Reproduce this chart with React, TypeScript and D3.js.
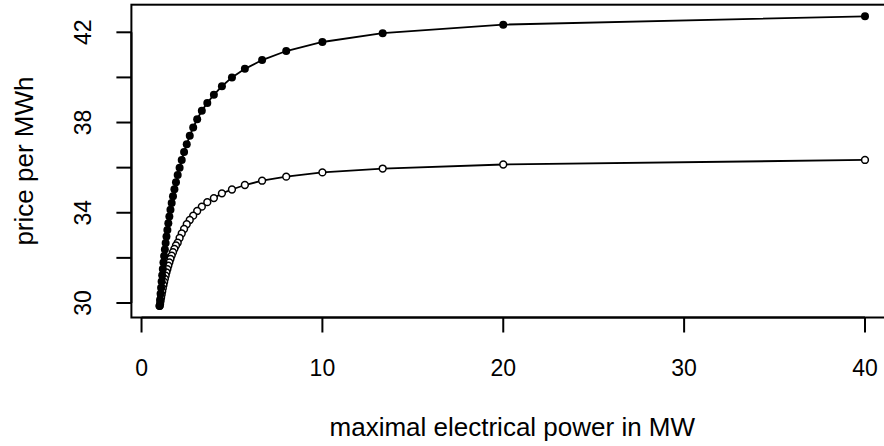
import React from "react";
import * as d3 from "d3";

const kIndex = d3.range(1, 41);
const powerMW = kIndex.map((k) => 40 / k);

const priceFilled = [
  42.71, 42.34, 41.96, 41.57, 41.17, 40.77, 40.38, 40.0, 39.61, 39.23,
  38.87, 38.52, 38.15, 37.78, 37.41, 37.04, 36.69, 36.34, 36.0, 35.67,
  35.35, 35.04, 34.73, 34.43, 34.13, 33.83, 33.53, 33.24, 32.95, 32.66,
  32.37, 32.08, 31.8, 31.51, 31.23, 30.95, 30.68, 30.41, 30.14, 29.87,
];

const priceOpen = [
  36.34, 36.14, 35.96, 35.79, 35.6, 35.42, 35.23, 35.03, 34.86, 34.65,
  34.47, 34.27, 34.08, 33.87, 33.68, 33.49, 33.28, 33.08, 32.88, 32.67,
  32.55, 32.4, 32.25, 32.1, 31.95, 31.8, 31.65, 31.5, 31.36, 31.21,
  31.07, 30.93, 30.79, 30.65, 30.51, 30.37, 30.23, 30.09, 29.96, 29.87,
];

const xTicks = [0, 10, 20, 30, 40];
const yTicks = [30, 32, 34, 36, 38, 40, 42];
const yTickLabels = [30, 34, 38, 42];

const xLabel = "maximal electrical power in MW";
const yLabel = "price per MWh";

const W = 884;
const H = 446;
const FONT = "'Liberation Sans', Arial, Helvetica, sans-serif";

export default function App() {
  const xMin = d3.min(powerMW) as number;
  const xMax = d3.max(powerMW) as number;
  const xExt = (xMax - xMin) * 0.04;
  const allY = priceFilled.concat(priceOpen);
  const yMin = d3.min(allY) as number;
  const yMax = d3.max(allY) as number;
  const yExt = (yMax - yMin) * 0.04;

  const left = 131.4;
  const right = 893.2;
  const top = 4.7;
  const bottom = 317.5;

  const x = d3.scaleLinear().domain([xMin - xExt, xMax + xExt]).range([left, right]);
  const y = d3.scaleLinear().domain([yMin - yExt, yMax + yExt]).range([bottom, top]);

  const line = d3
    .line<number>()
    .x((_, i) => x(powerMW[i]))
    .y((d) => y(d));

  const tickLen = 15;
  const tickFont = 23;
  const titleFont = 26;

  return (
    <div style={{ position: "fixed", left: 0, top: 0, width: W, height: H, background: "#fff" }}>
      <svg width={W} height={H} style={{ display: "block" }} fontFamily={FONT}>
        <rect x={0} y={0} width={W} height={H} fill="#fff" />
        {/* box */}
        <rect x={left} y={top} width={right - left} height={bottom - top} fill="none" stroke="#000" strokeWidth={2} />

        {/* x axis */}
        <line x1={x(xTicks[0])} x2={x(xTicks[xTicks.length - 1])} y1={bottom} y2={bottom} stroke="#000" strokeWidth={2} />
        {xTicks.map((t) => (
          <g key={"xt" + t}>
            <line x1={x(t)} x2={x(t)} y1={bottom} y2={bottom + tickLen} stroke="#000" strokeWidth={2} />
            <text x={x(t)} y={376} textAnchor="middle" fontSize={tickFont} fill="#000">
              {t}
            </text>
          </g>
        ))}

        {/* y axis */}
        <line x1={left} x2={left} y1={y(yTicks[0])} y2={y(yTicks[yTicks.length - 1])} stroke="#000" strokeWidth={2} />
        {yTicks.map((t) => (
          <line key={"yt" + t} x1={left - tickLen} x2={left} y1={y(t)} y2={y(t)} stroke="#000" strokeWidth={2} />
        ))}
        {yTickLabels.map((t) => (
          <text
            key={"yl" + t}
            transform={`translate(90.5,${y(t)}) rotate(-90)`}
            textAnchor="middle"
            fontSize={tickFont}
            fill="#000"
          >
            {t}
          </text>
        ))}

        {/* axis titles */}
        <text x={(left + right) / 2} y={436} textAnchor="middle" fontSize={titleFont} fill="#000">
          {xLabel}
        </text>
        <text transform={`translate(33,${(top + bottom) / 2}) rotate(-90)`} textAnchor="middle" fontSize={titleFont} fill="#000">
          {yLabel}
        </text>

        {/* open series */}
        <path d={line(priceOpen) || ""} fill="none" stroke="#000" strokeWidth={1.8} />
        {priceOpen.map((v, i) => (
          <circle key={"o" + i} cx={x(powerMW[i])} cy={y(v)} r={3.4} fill="#fff" stroke="#000" strokeWidth={1.5} />
        ))}

        {/* filled series */}
        <path d={line(priceFilled) || ""} fill="none" stroke="#000" strokeWidth={1.8} />
        {priceFilled.map((v, i) => (
          <circle key={"f" + i} cx={x(powerMW[i])} cy={y(v)} r={4} fill="#000" />
        ))}
      </svg>
    </div>
  );
}
